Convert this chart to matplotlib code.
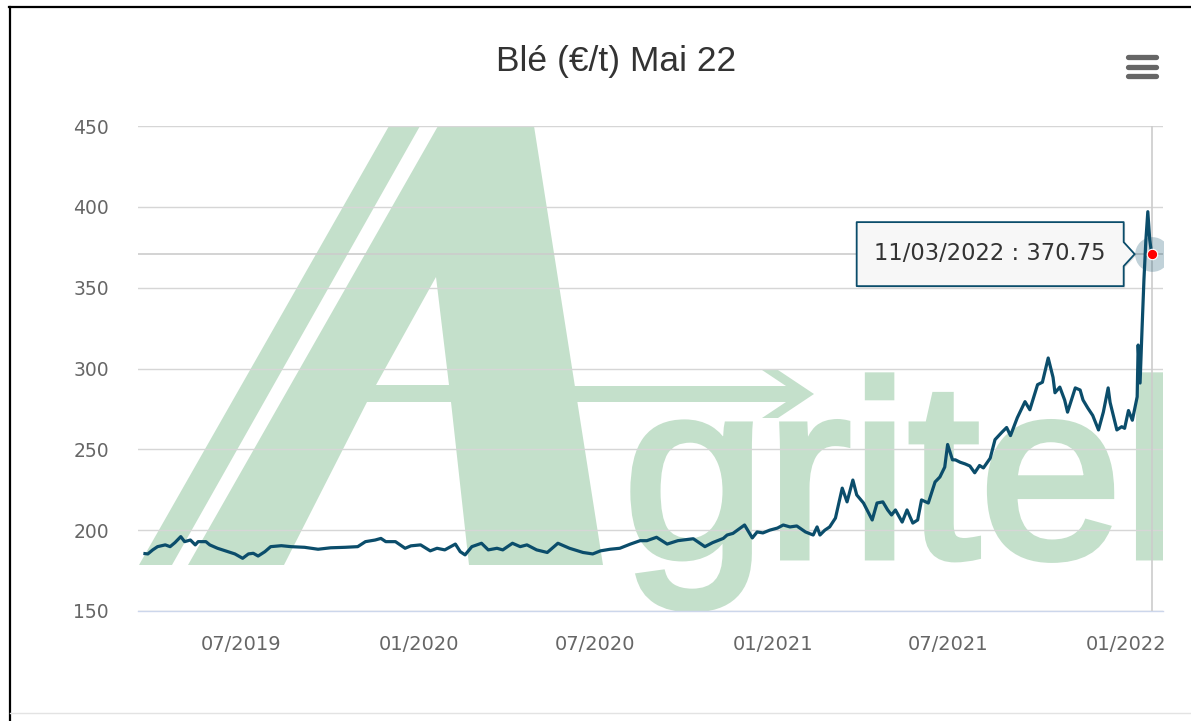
import numpy as np
import pandas as pd
import matplotlib
matplotlib.use("Agg")
import matplotlib.pyplot as plt
import matplotlib.dates as mdates
import matplotlib.transforms as mtransforms
from matplotlib.patches import PathPatch, Polygon
from matplotlib.textpath import TextPath
from matplotlib.font_manager import FontProperties
from matplotlib.lines import Line2D

title = "Blé (€/t) Mai 22"
start_date = "2019-03-24"

# days after start_date / price in €/t
days = [0, 3, 8, 13, 21, 26, 31, 37, 41, 47,
        52, 55, 63, 67, 75, 86, 93, 101, 107, 112,
        117, 124, 130, 141, 151, 165, 179, 192, 207, 220,
        228, 238, 244, 249, 259, 269, 275, 285, 295, 302,
        310, 321, 326, 331, 338, 348, 355, 364, 370, 380,
        388, 395, 405, 416, 427, 439, 453, 463, 471, 481,
        491, 502, 512, 519, 529, 540, 551, 567, 579, 587,
        598, 602, 608, 615, 620, 628, 633, 639, 646, 654,
        660, 667, 674, 683, 691, 695, 698, 703, 708, 714,
        721, 726, 732, 736, 743, 748, 752, 757, 763, 768,
        772, 776, 783, 788, 794, 799, 803, 810, 817, 822,
        827, 830, 835, 838, 843, 848, 853, 858, 863, 867,
        874, 879, 886, 891, 895, 902, 910, 915, 923, 928,
        934, 939, 941, 946, 951, 954, 962, 967, 970, 975,
        980, 986, 991, 996, 998, 1005, 1010, 1013, 1017, 1021,
        1026, 1027, 1029, 1031, 1033, 1035, 1037, 1039, 1041]
prices = [185.5, 185.3, 187.8, 189.8, 190.9, 189.8, 192.3, 196.0, 192.9, 193.9,
          190.9, 192.9, 192.9, 190.9, 188.8, 186.7, 185.3, 182.6, 185.3, 185.7,
          184.0, 186.7, 189.8, 190.4, 189.8, 189.4, 188.2, 189.1, 189.4, 189.8,
          192.9, 193.9, 194.9, 192.9, 192.9, 188.8, 190.3, 190.9, 187.2, 188.8,
          187.8, 191.4, 186.7, 184.7, 189.8, 191.9, 187.8, 188.8, 187.8, 191.9,
          189.8, 190.9, 187.8, 186.2, 191.9, 188.8, 186.2, 185.3, 187.2, 188.2,
          188.8, 191.4, 193.5, 193.5, 195.6, 191.4, 193.5, 194.7, 189.8, 192.3,
          194.9, 197.0, 198.0, 201.0, 203.2, 195.2, 198.9, 198.3, 200.0, 201.3,
          203.2, 202.0, 202.6, 198.9, 197.0, 202.0, 197.0, 200.0, 202.0, 207.5,
          226.0, 217.5, 231.0, 221.8, 216.8, 211.0, 206.3, 216.8, 217.5, 212.5,
          209.4, 212.5, 205.0, 212.5, 204.4, 206.3, 218.7, 216.8, 229.8, 232.9,
          239.0, 253.0, 243.5, 243.5, 242.0, 241.0, 239.7, 235.5, 240.0, 238.5,
          244.5, 256.0, 260.5, 263.5, 258.5, 269.5, 279.5, 274.5, 290.0, 291.5,
          306.5, 294.5, 285.0, 288.5, 280.5, 273.0, 288.0, 286.7, 280.5, 275.5,
          271.0, 262.0, 273.0, 288.0, 279.0, 262.0, 264.0, 263.0, 274.0, 268.0,
          282.5, 314.5, 291.0, 324.0, 355.0, 379.5, 397.0, 379.5, 370.75]

y_ticks = [150, 200, 250, 300, 350, 400, 450]
x_ticks = ["2019-07-01", "2020-01-01", "2020-07-01", "2021-01-01", "2021-07-01", "2022-01-01"]
x_tick_labels = ["07/2019", "01/2020", "07/2020", "01/2021", "07/2021", "01/2022"]
tooltip_date = "11/03/2022"

line_color = "#0b4d6b"
logo_green = "#c4e0cb"
grid_color = "#d6d6d6"

W, H = 1191, 721
fig = plt.figure(figsize=(W / 100, H / 100), dpi=100)
ax = fig.add_axes([138 / W, 1 - 611 / H, 1025 / W, 485 / H])

# pixel coords with origin at the top-left of the image
px = mtransforms.Affine2D().scale(1 / 100, -1 / 100).translate(0, H / 100) + fig.dpi_scale_trans

# ---- Agritel watermark ----
stripe = [(389, 126), (420, 126), (172, 565), (139, 565)]
big_a = [(438, 126), (188, 565), (284, 565), (367, 402), (451, 402),
         (469, 565), (603, 565), (534, 126)]
counter = [(436, 277), (376, 385), (449, 385)]
arrow = [(560, 386), (786, 386), (762, 370), (778, 370), (814, 394),
         (778, 418), (762, 418), (786, 402), (560, 402)]
for shape in (stripe, big_a, arrow):
    ax.add_patch(Polygon(shape, closed=True, transform=px, facecolor=logo_green,
                         edgecolor="none", zorder=0.1))
ax.add_patch(Polygon(counter, closed=True, transform=px, facecolor="white",
                     edgecolor="none", zorder=0.15))

# regular weight glyphs, thickened with a stroke of the same colour
tp = TextPath((0, 0), "gritel", size=1, prop=FontProperties(family="Liberation Sans"))
vx = tp.vertices[:, 0]
sx = (1162 - 623) / (vx.max() - vx.min())
word_tr = mtransforms.Affine2D().translate(-vx.min(), 0).scale(sx, -250).translate(623, 557) + px
word = PathPatch(tp, transform=word_tr, facecolor=logo_green, edgecolor=logo_green,
                 lw=5, zorder=0.1)
ax.add_patch(word)
word.set_clip_path(ax.patch)

# ---- data ----
dates = pd.Timestamp(start_date) + pd.to_timedelta(days, unit="D")
ax.plot(dates, prices, color=line_color, lw=2.3, solid_joinstyle="round", zorder=3)

x0 = pd.Timestamp(start_date)
ax.set_xlim(x0 - pd.Timedelta(days=7.2), x0 + pd.Timedelta(days=1052.7))
ax.set_ylim(150, 450)
ax.set_yticks(y_ticks)
ax.set_xticks(pd.to_datetime(x_ticks))
ax.set_xticklabels(x_tick_labels)

ax.set_axisbelow(True)
ax.grid(axis="y", color=grid_color, lw=1.0)
ax.grid(axis="x", visible=False)
for s in ("left", "right", "top"):
    ax.spines[s].set_visible(False)
ax.spines["bottom"].set_color("#ccd6eb")
ax.spines["bottom"].set_linewidth(1.0)
ax.spines["bottom"].set_zorder(0.6)
ax.tick_params(axis="y", length=0, pad=21, labelsize=13.5, labelcolor="#666666")
ax.tick_params(axis="x", length=0, pad=17, labelsize=14, labelcolor="#666666")

# ---- crosshair + tooltip on last point ----
last_x, last_y = dates[-1], prices[-1]
ax.axvline(last_x, color="#cccccc", lw=1.2, zorder=0.7)
ax.axhline(last_y, color="#cccccc", lw=1.2, zorder=0.7)
ax.plot([last_x], [last_y], "o", ms=25, color=line_color, alpha=0.25, mec="none", zorder=4)
ax.plot([last_x], [last_y], "o", ms=7.5, color="#ff0000", mec="white", mew=0.8, zorder=5)

anchor = fig.dpi_scale_trans + mtransforms.ScaledTranslation(mdates.date2num(last_x), last_y, ax.transData)
callout = np.array([(-295, 32), (-28, 32), (-28, 12), (-17, 0), (-28, -12),
                    (-28, -32), (-295, -32)]) / 100
shadow = Polygon(callout + np.array([0.015, -0.015]), closed=True, transform=anchor,
                 facecolor="#000000", alpha=0.12, edgecolor="none", zorder=6, clip_on=False)
box = Polygon(callout, closed=True, transform=anchor, facecolor="#f7f7f7",
              edgecolor=line_color, lw=1.3, joinstyle="round", zorder=7, clip_on=False)
ax.add_patch(shadow)
ax.add_patch(box)
ax.text(-1.615, 0.01, f"{tooltip_date} : {last_y:.2f}", transform=anchor, ha="center",
        va="center", fontsize=16.3, color="#333333", zorder=8, clip_on=False)

# ---- title, menu icon, frame ----
fig.text(616 / W, 1 - 61 / H, title, ha="center", va="center", fontsize=25.5,
         color="#333333", family="Liberation Sans")
for yy in (57, 67, 76):
    fig.add_artist(Line2D([1128, 1156], [yy, yy], transform=px, color="#666666",
                          lw=3.8, solid_capstyle="round"))
fig.add_artist(Line2D([9, W], [7, 7], transform=px, color="black", lw=1.6))
fig.add_artist(Line2D([10, 10], [7, H], transform=px, color="black", lw=1.6))
fig.add_artist(Line2D([10, W], [713, 713], transform=px, color="#e3e3e3", lw=1.0))

fig.savefig("out.png", dpi=100)
